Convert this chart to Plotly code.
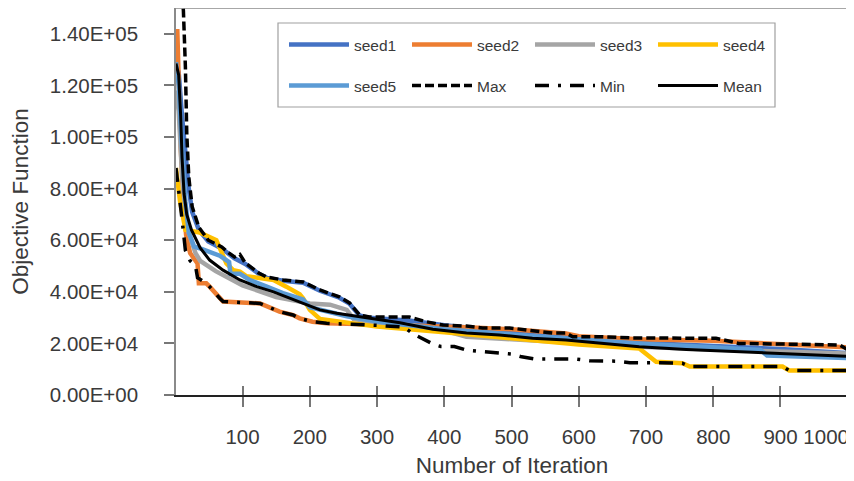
import plotly.graph_objects as go

# ---------------- data ----------------
seed1_iter = [1, 5, 10, 15, 20, 25, 35, 49, 69, 88, 104, 124, 136, 160, 190, 215, 244, 259, 274, 289, 350, 400, 500, 600, 700, 800, 900, 1000]
seed1_obj = [128000, 125000, 108000, 93000, 80000, 71000, 64000, 59500, 56800, 53000, 50800, 47000, 45400, 44300, 43500, 40400, 37700, 35400, 30800, 29900, 28800, 27000, 24600, 22000, 20200, 19200, 17800, 16200]

seed2_iter = [1, 3, 5, 8, 12, 16, 22, 30, 33, 35, 46, 51, 66, 71, 126, 136, 155, 175, 185, 204, 225, 300, 350, 400, 433, 500, 581, 600, 690, 800, 900, 988, 1000]
seed2_obj = [141000, 141000, 122000, 96000, 76000, 62000, 55000, 52000, 51000, 43300, 43300, 42000, 37500, 36200, 35500, 34500, 32300, 31000, 29700, 28400, 27800, 27300, 27000, 26400, 26300, 25500, 23800, 22800, 21600, 21000, 19800, 18900, 18500]

seed3_iter = [1, 5, 10, 17, 30, 37, 60, 100, 150, 200, 230, 255, 265, 300, 400, 433, 500, 600, 700, 800, 900, 1000]
seed3_obj = [118000, 110000, 85000, 65000, 55000, 52000, 48000, 42500, 38000, 35500, 35000, 33000, 29500, 28000, 25000, 22600, 21600, 20000, 18600, 17600, 16900, 16100]

seed4_iter = [1, 7, 15, 36, 61, 66, 76, 86, 96, 106, 146, 165, 185, 190, 200, 215, 300, 400, 500, 600, 690, 715, 754, 765, 903, 913, 1000]
seed4_obj = [88000, 75000, 64000, 63000, 60000, 57000, 51000, 48400, 47800, 46000, 44600, 42000, 39000, 37500, 33000, 29500, 26500, 24300, 21800, 19600, 18000, 12900, 12300, 11000, 11000, 9500, 9500]

seed5_iter = [1, 5, 10, 15, 20, 28, 40, 66, 80, 82, 96, 111, 136, 160, 190, 200, 240, 255, 300, 400, 500, 600, 700, 800, 870, 880, 1000]
seed5_obj = [129000, 120000, 95000, 75000, 63000, 57500, 56500, 54000, 51500, 47000, 47000, 44500, 42000, 39500, 37000, 34000, 31500, 30500, 28500, 25500, 23500, 21500, 19800, 18500, 17500, 15300, 14300]

max_iter = [1, 8, 12, 15, 17, 20, 25, 35, 49, 69, 80, 88, 96, 104, 124, 136, 160, 190, 215, 244, 259, 274, 289, 348, 373, 398, 433, 457, 497, 532, 561, 581, 591, 631, 680, 804, 838, 988, 1000]
max_obj = [190000, 160000, 149000, 127000, 101500, 84500, 73000, 65000, 60000, 57400, 55000, 53500, 54500, 51200, 47300, 45700, 44600, 43800, 40700, 38000, 35700, 31000, 30200, 30200, 28400, 27100, 26700, 26000, 26000, 24800, 24000, 24000, 22600, 22600, 22100, 22000, 20000, 19400, 17500]

min_iter = [1, 5, 10, 15, 22, 30, 33, 46, 51, 66, 71, 126, 136, 155, 175, 185, 204, 225, 300, 340, 355, 370, 385, 395, 415, 433, 475, 500, 515, 534, 594, 616, 656, 676, 715, 754, 765, 903, 913, 1000]
min_obj = [88000, 80000, 68000, 56000, 52000, 50000, 45500, 43300, 42000, 37500, 36200, 35500, 34500, 32300, 31000, 29700, 28400, 27800, 27000, 26300, 23500, 21500, 19500, 18800, 18800, 17400, 16300, 15900, 14800, 14000, 14000, 13300, 13100, 12500, 12500, 12300, 11000, 11000, 9500, 9500]

mean_iter = [1, 5, 8, 10, 13, 17, 24, 37, 51, 71, 96, 121, 146, 170, 195, 215, 240, 270, 309, 334, 383, 433, 482, 531, 581, 631, 690, 760, 838, 900, 1000]
mean_obj = [128500, 124000, 108000, 92000, 78000, 70000, 64000, 57000, 52300, 48400, 44600, 42000, 40000, 37500, 35000, 33000, 31700, 30500, 29200, 28000, 25500, 24000, 23300, 22000, 21300, 20000, 18700, 17600, 16800, 16000, 15000]

y_tick_vals = [0, 20000, 40000, 60000, 80000, 100000, 120000, 140000]
y_tick_labels = ["0.00E+00", "2.00E+04", "4.00E+04", "6.00E+04", "8.00E+04", "1.00E+05", "1.20E+05", "1.40E+05"]
x_tick_vals = [100, 200, 300, 400, 500, 600, 700, 800, 900, 1000]
x_tick_labels = ["100", "200", "300", "400", "500", "600", "700", "800", "900", "1000"]

# ---------------- styling ----------------
FONT = "Liberation Sans, Arial, sans-serif"
TXT = "#3a3a3a"
# the page body adds an 8px offset, so the figure is 8px smaller and margins compensate
W, H = 846, 473
L, R, T, B = 168, 6, 0, 86
PW, PH = W - L - R, H - T - B
XR = [1, 1000.4]
TICKFONT = dict(family=FONT, size=20.5, color=TXT)

fig = go.Figure()

seeds = [
    ("seed1", seed1_iter, seed1_obj, "#4472C4", "legend"),
    ("seed2", seed2_iter, seed2_obj, "#ED7D31", "legend"),
    ("seed3", seed3_iter, seed3_obj, "#A5A5A5", "legend"),
    ("seed4", seed4_iter, seed4_obj, "#FFC000", "legend"),
    ("seed5", seed5_iter, seed5_obj, "#5B9BD5", "legend2"),
]
for name, xs, ys, col, lg in seeds:
    fig.add_trace(go.Scatter(x=xs, y=ys, name=name, mode="lines",
                             line=dict(color=col, width=4.5), legend=lg))

fig.add_trace(go.Scatter(x=max_iter, y=max_obj, name="Max", mode="lines",
                         line=dict(color="black", width=3.5, dash="9px,4px"), legend="legend2"))
fig.add_trace(go.Scatter(x=min_iter, y=min_obj, name="Min", mode="lines",
                         line=dict(color="black", width=3.5, dash="14px,9px,3px,9px"), legend="legend2"))
fig.add_trace(go.Scatter(x=mean_iter, y=mean_obj, name="Mean", mode="lines",
                         line=dict(color="black", width=3), legend="legend2"))

# empty helper traces so the overlay axes (inner tick marks, last tick label) are drawn
for ax in ("x2", "x3"):
    fig.add_trace(go.Scatter(x=[], y=[], xaxis=ax, yaxis="y", showlegend=False, hoverinfo="skip"))

legend_common = dict(
    orientation="h", bgcolor="rgba(0,0,0,0)", borderwidth=0,
    font=dict(family=FONT, size=15.5, color=TXT),
    itemwidth=60, entrywidth=48, entrywidthmode="pixels",
    xanchor="left", yanchor="middle", itemclick=False, itemdoubleclick=False,
)


def px_x(p):  # reference pixel -> paper x
    return (p - 8 - L) / PW


def px_y(p):  # reference pixel -> paper y
    return (H - B - (p - 8)) / PH


fig.update_layout(
    width=W, height=H,
    margin=dict(l=L, r=R, t=T, b=B),
    paper_bgcolor="white", plot_bgcolor="white",
    font=dict(family=FONT, color=TXT),
    showlegend=True,
    legend=dict(x=px_x(284), y=px_y(45), **legend_common),
    legend2=dict(x=px_x(284), y=px_y(86), **legend_common),
    xaxis=dict(
        range=XR, tickmode="array", tickvals=x_tick_vals, ticktext=x_tick_labels[:-1] + [""],
        automargin=False,
        showgrid=False, zeroline=False, showline=True, linecolor="#222", linewidth=1.5,
        ticks="outside", ticklen=10, tickwidth=1.5, tickcolor="#777",
        tickfont=TICKFONT, ticklabelstandoff=13,
        title=dict(text="Number of Iteration", font=dict(family=FONT, size=22.5, color=TXT), standoff=10),
    ),
    xaxis2=dict(
        range=XR, overlaying="x", side="bottom", anchor="y", tickmode="array", tickvals=x_tick_vals,
        automargin=False,
        showticklabels=False, showgrid=False, zeroline=False, showline=False,
        ticks="inside", ticklen=9, tickwidth=1.5, tickcolor="#777",
    ),
    xaxis3=dict(
        range=XR, overlaying="x", side="bottom", anchor="y", tickmode="array",
        tickvals=x_tick_vals[-1:], ticktext=x_tick_labels[-1:],
        ticklabelposition="outside left", automargin=False,
        showgrid=False, zeroline=False, showline=False,
        ticks="outside", ticklen=10, tickwidth=1.5, tickcolor="#777",
        tickfont=TICKFONT, ticklabelstandoff=23, ticklabelshift=2,
    ),
    yaxis=dict(
        range=[0, 150000], tickmode="array", tickvals=y_tick_vals, ticktext=y_tick_labels,
        automargin=False,
        showgrid=False, zeroline=False, showline=True, linecolor="#8a8a8a", linewidth=1.5, mirror=True,
        ticks="outside", ticklen=10, tickwidth=1.5, tickcolor="#777",
        tickfont=TICKFONT, ticklabelstandoff=22,
        title=dict(text="Objective Function", font=dict(family=FONT, size=22.5, color=TXT), standoff=16),
    ),
    shapes=[
        dict(type="line", xref="paper", yref="paper", x0=0, x1=1, y0=1, y1=1,
             line=dict(color="#8a8a8a", width=1.5), layer="above"),
        dict(type="rect", xref="paper", yref="paper",
             x0=px_x(278), x1=px_x(775), y0=px_y(107), y1=px_y(23),
             line=dict(color="#a0a0a0", width=1.2), fillcolor="white", layer="above"),
    ],
)

fig.write_html("out.html")
